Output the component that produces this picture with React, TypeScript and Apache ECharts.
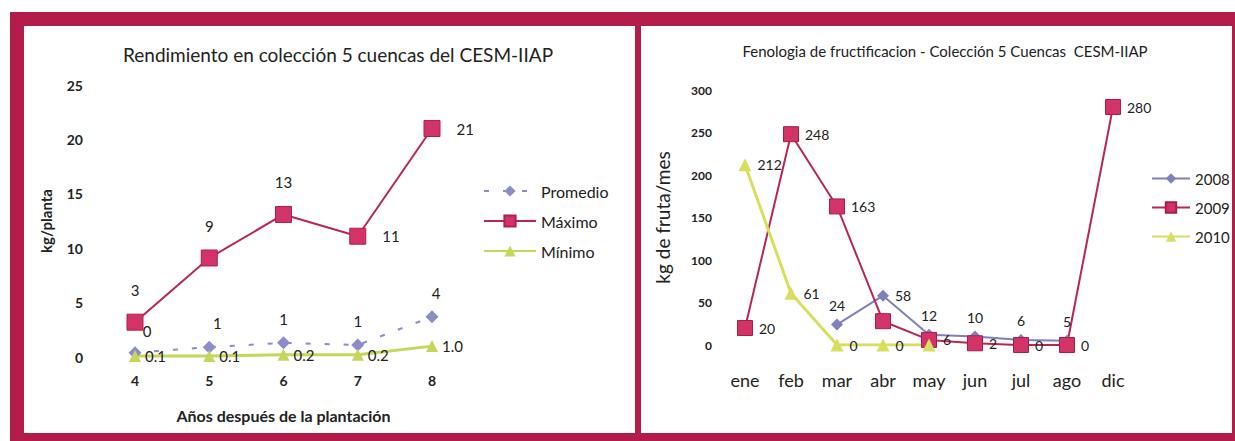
import React, { useEffect, useRef } from "react";
import * as echarts from "echarts";

// ---------- Left chart data ----------
const yearCats = ["4", "5", "6", "7", "8"];
const promedio = [0.4, 0.9, 1.3, 1.1, 3.7];
const maximo = [3.2, 9.1, 13.1, 11.1, 21.0];
const minimo = [0.1, 0.1, 0.2, 0.2, 1.0];
const leftTitle = "Rendimiento en colección 5 cuencas del CESM-IIAP";

// ---------- Right chart data ----------
const months = ["ene", "feb", "mar", "abr", "may", "jun", "jul", "ago", "dic"];
const s2008 = [null, null, 24, 58, 12, 10, 6, 5, null];
const s2009 = [20, 248, 163, 28, 6, 2, 0, 0, 280];
const s2010 = [212, 61, 0, 0, 0, null, null, null, null];
const rightTitle = "Fenologia de fructificacion - Colección 5 Cuencas  CESM-IIAP";

// label placement (styling)
const posMax = ["top", "top", "top", "right", "right"];
const posProm = ["top", "top", "top", "top", "top"];
const offProm = [[12, 2], [8, 0], [0, 0], [0, 0], [4, 0]];
const pos2008 = [null, null, "top", "right", "top", "top", "top", "top", null];
const pos2009 = ["right", "right", "right", null, "right", "right", "right", "right", "right"];
const pos2010 = ["right", "right", "right", "right", null, null, null, null, null];

const FONT = "Lato, 'Open Sans', sans-serif";
const FRAME = "#B31B4B";

function items(
  vals: (number | null)[],
  pos: (string | null)[],
  dist = 6,
  offs?: number[][]
) {
  return vals.map((v, i) => ({
    value: v,
    label: pos[i]
      ? { show: true, position: pos[i], distance: dist, offset: offs ? offs[i] : [0, 0] }
      : { show: false },
  }));
}

export default function App() {
  const ref = useRef<HTMLDivElement>(null);
  useEffect(() => {
    document.body.style.margin = "0";
    const chart = echarts.init(ref.current!, null, { renderer: "svg" });
    const axisCommon = {
      axisLine: { show: false },
      axisTick: { show: false },
      splitLine: { show: false },
    };
    chart.setOption({
      animation: false,
      backgroundColor: "#ffffff",
      textStyle: { fontFamily: FONT },
      title: [
        {
          text: leftTitle,
          left: 333,
          top: 40,
          textAlign: "center",
          textStyle: { fontSize: 19, fontWeight: "normal", color: "#222", fontFamily: FONT },
        },
        {
          text: rightTitle,
          left: 940,
          top: 38,
          textAlign: "center",
          textStyle: { fontSize: 15, fontWeight: "normal", color: "#222", fontFamily: FONT },
        },
      ],
      legend: [
        {
          data: ["Promedio", "Máximo", "Mínimo"],
          orient: "vertical",
          left: 478,
          top: 178,
          itemWidth: 52,
          itemHeight: 14,
          itemGap: 14,
          textStyle: { fontSize: 16, color: "#222", fontFamily: FONT },
        },
        {
          data: ["2008", "2009", "2010"],
          orient: "vertical",
          left: 1146,
          top: 166,
          itemWidth: 38,
          itemHeight: 13,
          itemGap: 14,
          textStyle: { fontSize: 15, color: "#222", fontFamily: FONT },
        },
      ],
      grid: [
        { left: 135, top: 85, width: 297, height: 272 },
        { left: 745, top: 90, width: 368, height: 255 },
      ],
      xAxis: [
        {
          type: "category",
          gridIndex: 0,
          data: yearCats,
          boundaryGap: false,
          ...axisCommon,
          axisLabel: { margin: 16, fontSize: 14, fontWeight: "bold", color: "#222" },
          name: "Años después de la plantación",
          nameLocation: "middle",
          nameGap: 50,
          nameTextStyle: { fontSize: 16, fontWeight: "bold", color: "#222" },
        },
        {
          type: "category",
          gridIndex: 1,
          data: months,
          boundaryGap: false,
          ...axisCommon,
          axisLabel: { margin: 26, fontSize: 18, color: "#222" },
        },
      ],
      yAxis: [
        {
          type: "value",
          gridIndex: 0,
          min: 0,
          max: 25,
          interval: 5,
          ...axisCommon,
          axisLabel: { margin: 52, fontSize: 14, fontWeight: "bold", color: "#222" },
          name: "kg/planta",
          nameLocation: "middle",
          nameGap: 82,
          nameTextStyle: { fontSize: 15, fontWeight: "bold", color: "#222" },
        },
        {
          type: "value",
          gridIndex: 1,
          min: 0,
          max: 300,
          interval: 50,
          ...axisCommon,
          axisLabel: { margin: 33, fontSize: 12, fontWeight: "bold", color: "#222" },
          name: "kg de fruta/mes",
          nameLocation: "middle",
          nameGap: 73,
          nameTextStyle: { fontSize: 19, color: "#222" },
        },
      ],
      series: [
        {
          name: "Promedio",
          type: "line",
          xAxisIndex: 0,
          yAxisIndex: 0,
          data: items(promedio, posProm, 10, offProm),
          symbol: "diamond",
          symbolSize: 13,
          itemStyle: { color: "#8B8CC8" },
          lineStyle: { color: "#8B8CC8", width: 2, type: [5, 14] },
          label: {
            show: true,
            fontSize: 15,
            color: "#222",
            formatter: (p: any) => String(Math.round(p.value)),
          },
        },
        {
          name: "Máximo",
          type: "line",
          xAxisIndex: 0,
          yAxisIndex: 0,
          data: items(maximo, posMax, 16),
          symbol: "rect",
          symbolSize: 16,
          itemStyle: { color: "#D33468", borderColor: "#B01E50", borderWidth: 1 },
          lineStyle: { color: "#B82656", width: 2 },
          label: {
            show: true,
            fontSize: 15,
            color: "#222",
            formatter: (p: any) => String(Math.round(p.value)),
          },
        },
        {
          name: "Mínimo",
          type: "line",
          xAxisIndex: 0,
          yAxisIndex: 0,
          data: items(minimo, ["right", "right", "right", "right", "right"], 4),
          symbol: "triangle",
          symbolSize: 12,
          itemStyle: { color: "#C6D65A" },
          lineStyle: { color: "#C6D65A", width: 3 },
          label: {
            show: true,
            fontSize: 15,
            color: "#222",
            formatter: (p: any) => Number(p.value).toFixed(1),
          },
        },
        {
          name: "2008",
          type: "line",
          xAxisIndex: 1,
          yAxisIndex: 1,
          data: items(s2008, pos2008, 6),
          symbol: "diamond",
          symbolSize: 12,
          itemStyle: { color: "#7E80BC" },
          lineStyle: { color: "#7E80BC", width: 2 },
          label: { show: true, fontSize: 14, color: "#222" },
        },
        {
          name: "2009",
          type: "line",
          xAxisIndex: 1,
          yAxisIndex: 1,
          data: items(s2009, pos2009, 6),
          symbol: "rect",
          symbolSize: 15,
          itemStyle: { color: "#D33468", borderColor: "#A81C4C", borderWidth: 1 },
          lineStyle: { color: "#B82656", width: 2 },
          label: { show: true, fontSize: 14, color: "#222" },
        },
        {
          name: "2010",
          type: "line",
          xAxisIndex: 1,
          yAxisIndex: 1,
          data: items(s2010, pos2010, 6),
          symbol: "triangle",
          symbolSize: 13,
          itemStyle: { color: "#D8DE5E" },
          lineStyle: { color: "#D8DE5E", width: 3 },
          label: { show: true, fontSize: 14, color: "#222" },
        },
      ],
      graphic: [
        { type: "rect", shape: { x: 10, y: 12, width: 1225, height: 14 }, style: { fill: FRAME } },
        { type: "rect", shape: { x: 10, y: 12, width: 14, height: 429 }, style: { fill: FRAME } },
        { type: "rect", shape: { x: 10, y: 433, width: 1225, height: 8 }, style: { fill: FRAME } },
        { type: "rect", shape: { x: 635, y: 12, width: 6, height: 429 }, style: { fill: FRAME } },
        { type: "rect", shape: { x: 1232, y: 12, width: 3, height: 429 }, style: { fill: FRAME } },
      ],
    });
    return () => chart.dispose();
  }, []);
  return <div ref={ref} style={{ width: 1235, height: 441 }} />;
}
